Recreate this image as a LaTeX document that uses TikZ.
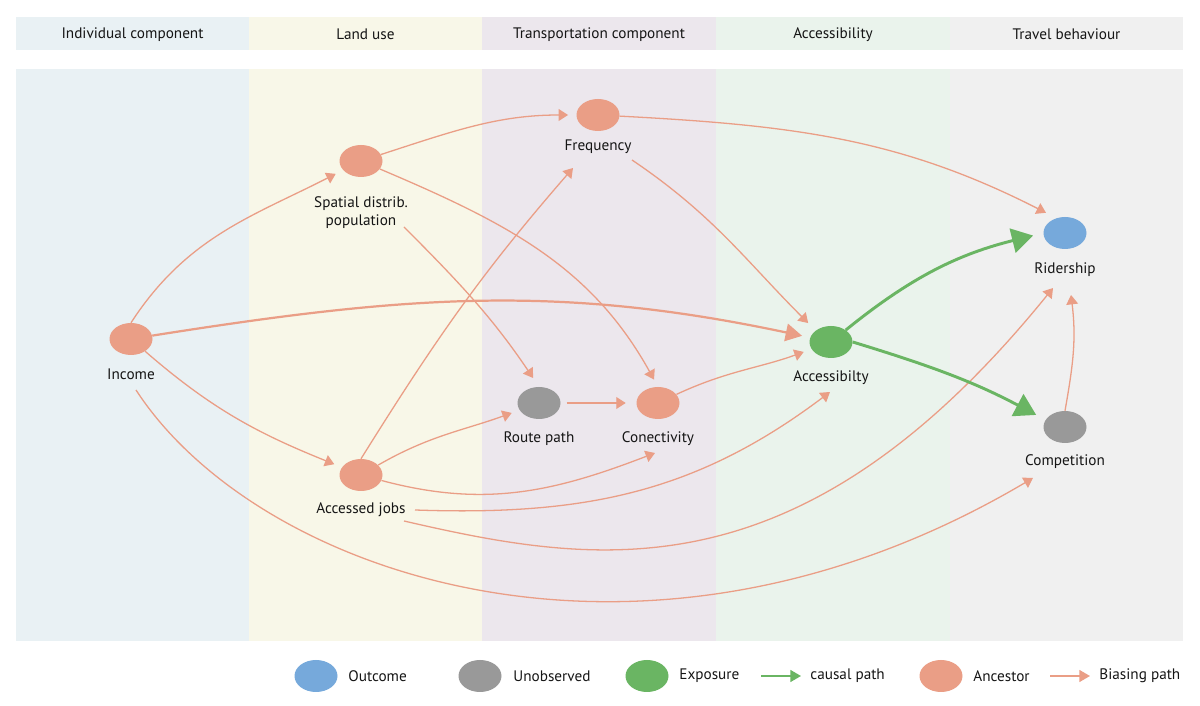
\documentclass[tikz,border=0pt]{standalone}
\usepackage{fontspec}
\setmainfont{PT Sans}
\usepackage{tikz}
\usetikzlibrary{arrows.meta,shapes.geometric,calc}
\definecolor{indbg}{HTML}{E9F1F4}
\definecolor{landbg}{HTML}{F8F7E8}
\definecolor{transbg}{HTML}{ECE7ED}
\definecolor{accbg}{HTML}{EAF3EC}
\definecolor{travbg}{HTML}{F0F0F0}
\definecolor{ancestor}{HTML}{EA9E86}
\definecolor{exposure}{HTML}{6AB563}
\definecolor{outcome}{HTML}{76A9DB}
\definecolor{unobs}{HTML}{999999}
\definecolor{txt}{HTML}{151515}
\tikzstyle{var} = [ellipse, minimum width=1.29cm, minimum height=0.96cm, inner sep=0pt]
\tikzstyle{lbl} = [font=\fontsize{13}{15.5}\selectfont, text=txt, inner sep=1pt, align=center]
\tikzstyle{bias} = [-{Triangle[length=8pt,width=10pt]}, line width=1.1pt, ancestor, shorten >=7pt]
\tikzstyle{bigbias} = [-{Triangle[length=14pt,width=15pt]}, line width=1.9pt, ancestor, shorten >=7pt]
\tikzstyle{causal} = [-{Triangle[length=18pt,width=21pt]}, line width=2.5pt, exposure, shorten >=9pt]
\begin{document}
\begin{tikzpicture}[x=0.03cm,y=0.03cm]
\useasboundingbox (0,0) rectangle (1200,706);
\fill[indbg] (16,689) rectangle (249,656);
\fill[landbg] (249,689) rectangle (482,656);
\fill[transbg] (482,689) rectangle (716,656);
\fill[accbg] (716,689) rectangle (950,656);
\fill[travbg] (950,689) rectangle (1183,656);
\fill[indbg] (16,637) rectangle (249,65);
\fill[landbg] (249,637) rectangle (482,65);
\fill[transbg] (482,637) rectangle (716,65);
\fill[accbg] (716,637) rectangle (950,65);
\fill[travbg] (950,637) rectangle (1183,65);
\node[lbl] (hind) at (132.5,671.5) {Individual component};
\node[lbl] (hland) at (365.5,671.5) {Land use};
\node[lbl] (htrans) at (599,671.5) {Transportation component};
\node[lbl] (hacc) at (833,671.5) {Accessibility};
\node[lbl] (htrav) at (1066.5,671.5) {Travel behaviour};
\node[var, fill=ancestor] (inc) at (131,367) {};
\node[lbl] (inclbl) at (131,332) {Income};
\node[var, fill=ancestor] (spa) at (361,545) {};
\node[lbl] (spalbl) at (361,493) {Spatial distrib.\\population};
\node[var, fill=ancestor] (frq) at (598,591) {};
\node[lbl] (frqlbl) at (598,559) {Frequency};
\node[var, fill=outcome] (rid) at (1065,473) {};
\node[lbl] (ridlbl) at (1065,436) {Ridership};
\node[var, fill=exposure] (acc) at (831,364) {};
\node[lbl] (acclbl) at (831,328) {Accessibilty};
\node[var, fill=unobs] (rte) at (539,303) {};
\node[lbl] (rtelbl) at (539,267) {Route path};
\node[var, fill=ancestor] (con) at (658,303) {};
\node[lbl] (conlbl) at (658,267) {Conectivity};
\node[var, fill=ancestor] (job) at (361,231) {};
\node[lbl] (joblbl) at (361,196) {Accessed jobs};
\node[var, fill=unobs] (cmp) at (1065,279) {};
\node[lbl] (cmplbl) at (1065,244) {Competition};
\draw[bias] (inc.north) to[out=57,in=207] (spa);
\draw[bigbias] (inc) to[out=9,in=168] (acc);
\draw[bias] (inc) to[out=-41,in=158] (job);
\draw[bias, shorten >=0pt] ($(inclbl)+(5,-16)$) .. controls +(-57:220) and +(210.6:455) .. ($(cmplbl)+(-32,-16)$);
\draw[bias] (spa) to[out=18,in=180] (frq);
\draw[bias] (spa) to[out=-23,in=119] (con.north);
\draw[bias, shorten >=9pt] ($(spalbl)+(43,-14)$) to[out=-45,in=124] (rte.north);
\draw[bias, shorten >=10pt] (frq) to[out=-3,in=153] (rid.120);
\draw[bias, shorten >=9pt] ($(frqlbl)+(34,-13)$) to[out=-34,in=135] (acc.north west);
\draw[bias, shorten >=0pt] (job.north) to[out=58,in=229] ($(frqlbl)+(-25,-21)$);
\draw[bias] (job) to[out=30,in=200] (rte);
\draw[bias, shorten >=0pt] (job) to[out=-15,in=201] ($(conlbl)+(-3,-14)$);
\draw[bias, shorten >=0pt] ($(joblbl)+(54,0)$) to[out=-2,in=217] ($(acclbl)+(-1,-14)$);
\draw[bias, shorten >=0pt] ($(joblbl)+(43,-11)$) .. controls +(-13:200) and +(231:400) .. ($(ridlbl)+(-12,-18)$);
\draw[bias, shorten <=5pt, shorten >=9pt] (rte) -- (con);
\draw[bias] (con) to[out=25,in=200] (acc);
\draw[bias, shorten >=0pt] (cmp.north) to[out=80,in=-83] ($(ridlbl)+(6,-25)$);
\draw[causal] (acc) to[out=39,in=194] (rid.west);
\draw[causal] (acc.east) to[out=-17,in=152] (cmp.160);
\node[var, fill=outcome] (keyout) at (316,30) {};
\node[lbl, anchor=west] (keyoutlbl) at (347,30) {Outcome};
\node[var, fill=unobs] (keyunobs) at (480,30) {};
\node[lbl, anchor=west] (keyunobslbl) at (512,30) {Unobserved};
\node[var, fill=exposure] (keyexp) at (647,30) {};
\node[lbl, anchor=west] (keyexplbl) at (678,30) {Exposure};
\coordinate (keycausalA) at (761,30);
\coordinate (keycausalB) at (801,30);
\draw[-{Triangle[length=9pt,width=10pt]}, line width=1.6pt, exposure] (keycausalA) -- (keycausalB);
\node[lbl, anchor=west] (keycausallbl) at (809,30) {causal path};
\node[var, fill=ancestor] (keyanc) at (941,30) {};
\node[lbl, anchor=west] (keyanclbl) at (972,30) {Ancestor};
\coordinate (keybiasA) at (1050,30);
\coordinate (keybiasB) at (1090,30);
\draw[-{Triangle[length=9pt,width=10pt]}, line width=1.6pt, ancestor] (keybiasA) -- (keybiasB);
\node[lbl, anchor=west] (keybiaslbl) at (1098,30) {Biasing path};
\end{tikzpicture}
\end{document}
